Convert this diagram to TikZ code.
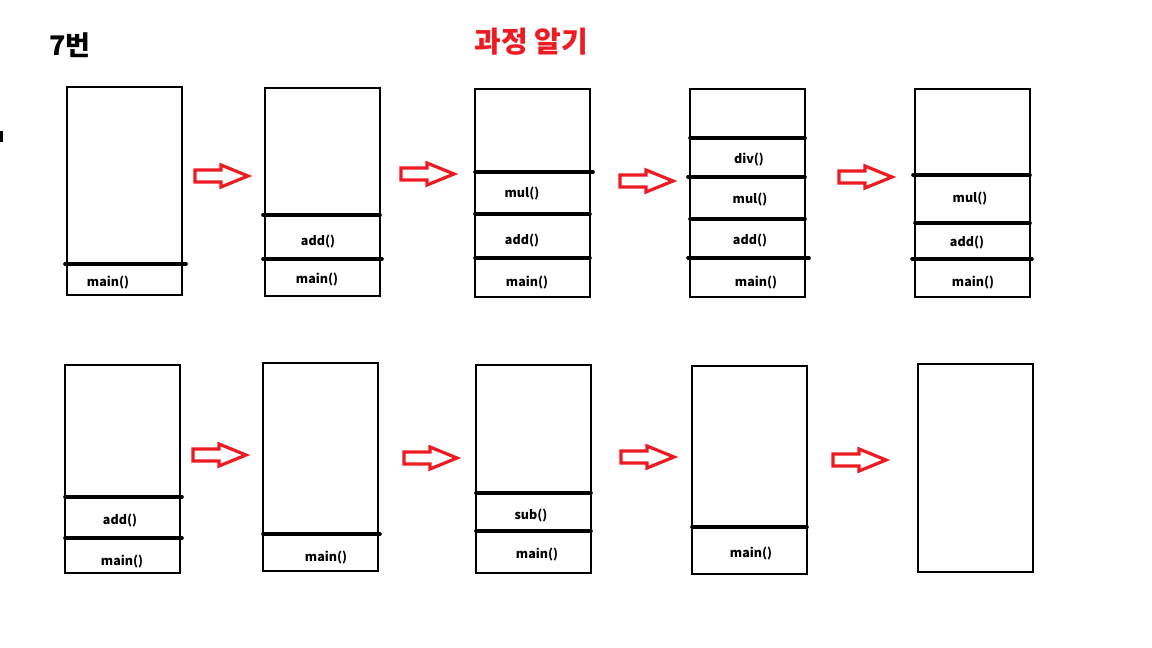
\documentclass[tikz,border=0pt]{standalone}
\usepackage{fontspec}
\setmainfont{Noto Sans CJK KR}
\definecolor{pred}{RGB}{237,28,36}
\begin{document}
\begin{tikzpicture}[x=1pt,y=-1pt,
  stack/.style={draw=black,line width=2.6pt},
  divline/.style={line width=3.6pt,line cap=round},
  lbl/.style={font=\fontsize{12.5}{14}\selectfont\bfseries,inner sep=0pt,yshift=-1.5pt},
  redarrow/.pic={\draw[pred,line width=3.2pt,line join=miter]
     (-26,-6) -- (0,-6) -- (0,-11) -- (27,0) -- (0,11) -- (0,6) -- (-26,6) -- cycle;}]
\useasboundingbox[fill=white] (0,0) rectangle (1152,648);
% titles
\node[font=\fontsize{27}{30}\selectfont\bfseries,anchor=west,inner sep=0pt] (t7) at (49,45) {7번};
\node[font=\fontsize{29}{32}\selectfont\bfseries,text=pred,inner sep=0pt] (tt) at (531,42) {과정 알기};
\fill (0,131) rectangle (3,142);
% ---- top row ----
\draw[stack] (67,87) rectangle (182,295);
\draw[divline] (65,264) -- (186,264);
\node[lbl] (a1) at (108,281) {main()};

\draw[stack] (265,88) rectangle (380,296);
\draw[divline] (263,215) -- (380,215);
\draw[divline] (263,259) -- (382,259);
\node[lbl] (b1) at (318,240) {add()};
\node[lbl] (b2) at (317,278) {main()};

\draw[stack] (475,89) rectangle (590,297);
\draw[divline] (475,172) -- (593,172);
\draw[divline] (475,214) -- (590,214);
\draw[divline] (475,258) -- (590,258);
\node[lbl] (c1) at (522,192) {mul()};
\node[lbl] (c2) at (522,239) {add()};
\node[lbl] (c3) at (527,281) {main()};

\draw[stack] (690,89) rectangle (805,297);
\draw[divline] (690,138) -- (805,138);
\draw[divline] (688,177) -- (805,177);
\draw[divline] (690,219) -- (805,219);
\draw[divline] (688,258) -- (809,258);
\node[lbl] (d1) at (749,158) {div()};
\node[lbl] (d2) at (750,198) {mul()};
\node[lbl] (d3) at (750,239) {add()};
\node[lbl] (d4) at (756,281) {main()};

\draw[stack] (915,89) rectangle (1030,297);
\draw[divline] (913,175) -- (1030,175);
\draw[divline] (915,223) -- (1030,223);
\draw[divline] (912,259) -- (1032,259);
\node[lbl] (e1) at (970,197) {mul()};
\node[lbl] (e2) at (967,241) {add()};
\node[lbl] (e3) at (973,281) {main()};

\pic at (221,176) {redarrow};
\pic at (427,174) {redarrow};
\pic at (646,181) {redarrow};
\pic at (865,177) {redarrow};

% ---- bottom row ----
\draw[stack] (65,365) rectangle (180,573);
\draw[divline] (65,497) -- (182,497);
\draw[divline] (65,538) -- (182,538);
\node[lbl] (f1) at (120,519) {add()};
\node[lbl] (f2) at (122,560) {main()};

\draw[stack] (263,363) rectangle (378,571);
\draw[divline] (263,534) -- (380,534);
\node[lbl] (g1) at (326,556) {main()};

\draw[stack] (476,365) rectangle (591,573);
\draw[divline] (476,493) -- (591,493);
\draw[divline] (476,531) -- (591,531);
\node[lbl] (h1) at (531,514) {sub()};
\node[lbl] (h2) at (537,553) {main()};

\draw[stack] (692,366) rectangle (807,574);
\draw[divline] (692,527) -- (807,527);
\node[lbl] (i1) at (751,552) {main()};

\draw[stack] (918,364) rectangle (1033,572);

\pic at (219,455) {redarrow};
\pic at (430,458) {redarrow};
\pic at (647,457) {redarrow};
\pic at (859,460) {redarrow};
\end{tikzpicture}
\end{document}
